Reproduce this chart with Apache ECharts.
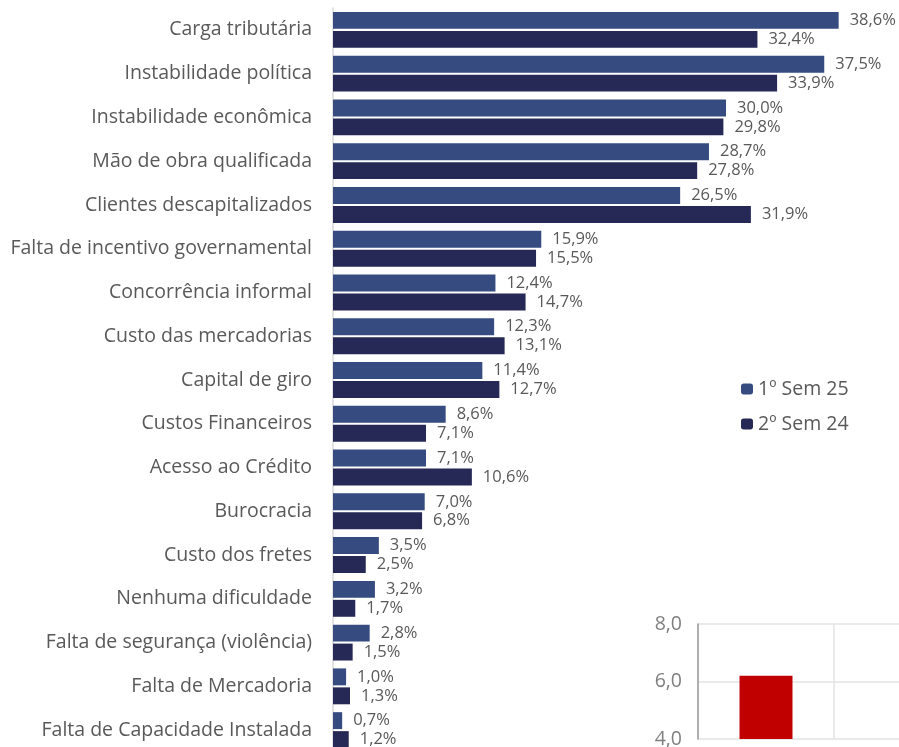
<!DOCTYPE html>
<html><head><meta charset="utf-8">
<script src="https://cdn.jsdelivr.net/npm/echarts@6/dist/echarts.min.js"></script>
<style>html,body{margin:0;padding:0;background:#fff}#c{width:899px;height:747px}</style>
</head><body><div id="c"></div>
<script>
const categories = ["Carga tributária","Instabilidade política","Instabilidade econômica","Mão de obra qualificada","Clientes descapitalizados","Falta de incentivo governamental","Concorrência informal","Custo das mercadorias","Capital de giro","Custos Financeiros","Acesso ao Crédito","Burocracia","Custo dos fretes","Nenhuma dificuldade","Falta de segurança (violência)","Falta de Mercadoria","Falta de Capacidade Instalada"];
const sem1_25 = [38.6,37.5,30.0,28.7,26.5,15.9,12.4,12.3,11.4,8.6,7.1,7.0,3.5,3.2,2.8,1.0,0.7];
const sem2_24 = [32.4,33.9,29.8,27.8,31.9,15.5,14.7,13.1,12.7,7.1,10.6,6.8,2.5,1.7,1.5,1.3,1.2];
const insetCategories = ["a","b"];
const insetValues = [6.2, null];
const insetTicks = ["4,0","6,0","8,0"];

const chart = echarts.init(document.getElementById('c'));
const fmt = p => p.value.toFixed(1).replace('.', ',') + '%';
const font = '"Open Sans", sans-serif';
chart.setOption({
  animation:false,
  legend:{
    orient:'vertical', left:736, top:374, itemWidth:12, itemHeight:11, itemGap:15,
    textStyle:{fontSize:19.5, color:'#595959', fontFamily:font},
    data:['1º Sem 25','2º Sem 24']
  },
  grid:[
    {left:333, top:8, width:524, height:744, outerBoundsMode:'none'},
    {left:698, top:624, width:272, height:115, outerBoundsMode:'none'}
  ],
  xAxis:[
    {gridIndex:0, type:'value', min:0, max:40, show:false},
    {gridIndex:1, type:'category', data:insetCategories, axisLabel:{show:false}, axisTick:{show:false},
     axisLine:{show:false}, splitLine:{show:true, lineStyle:{color:'#e3e3e3', width:1.5}}}
  ],
  yAxis:[
    {gridIndex:0, type:'category', data:categories, inverse:true,
     axisTick:{show:false},
     axisLine:{show:true, lineStyle:{color:'#d9d9d9', width:1.5}},
     axisLabel:{fontSize:19.5, color:'#595959', margin:21, fontFamily:font}},
    {gridIndex:1, type:'value', min:4, max:8, interval:2,
     axisLine:{show:true, lineStyle:{color:'#9a9a9a', width:1.5}},
     axisTick:{show:false},
     splitLine:{lineStyle:{color:'#e3e3e3', width:1.5}},
     axisLabel:{fontSize:19.5, color:'#7f7f7f', margin:16, fontFamily:font,
       formatter: v => insetTicks[(v-4)/2]}}
  ],
  series:[
    {name:'1º Sem 25', type:'bar', xAxisIndex:0, yAxisIndex:0, data:sem1_25,
     itemStyle:{color:'#364C80'}, barGap:'12%', barCategoryGap:'18%',
     label:{show:true, position:'right', distance:11, formatter:fmt, fontSize:16.5, color:'#595959', fontFamily:font}},
    {name:'2º Sem 24', type:'bar', xAxisIndex:0, yAxisIndex:0, data:sem2_24,
     itemStyle:{color:'#262856'}, barGap:'12%', barCategoryGap:'18%',
     label:{show:true, position:'right', distance:11, formatter:fmt, fontSize:16.5, color:'#595959', fontFamily:font}},
    {name:'inset', type:'bar', xAxisIndex:1, yAxisIndex:1, data:insetValues, barWidth:53,
     itemStyle:{color:'#C00000'}}
  ]
});
</script></body></html>
